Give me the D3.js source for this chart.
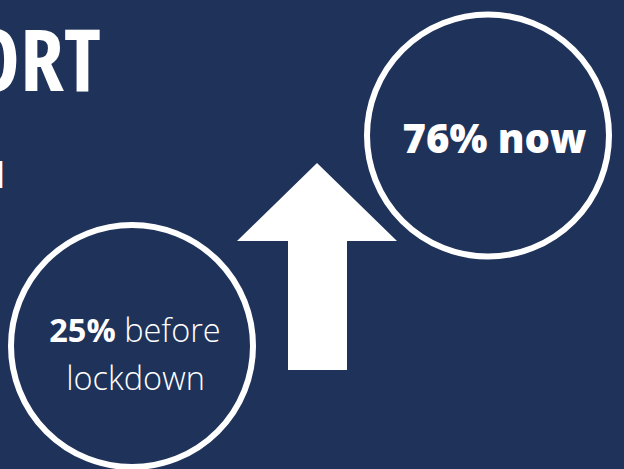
<!DOCTYPE html>
<html>
<head>
<meta charset="utf-8">
<script src="https://cdn.jsdelivr.net/npm/d3@7"></script>
<style>
    body { margin: 0; background: #1f335a; overflow: hidden; }
    svg { display: block; }
</style>
</head>
<body>
<svg id="chart" width="624" height="469"></svg>
<script>
// data
let periods = ['before', 'now'];
let shares = [25, 76];
let labels = ['before lockdown', 'now'];
let title = 'SUPPORT';
let subtitle = 'school';

let svg = d3.select('#chart');

svg.append('rect')
    .attr('width', 624)
    .attr('height', 469)
    .style('fill', '#1f335a');

// title cut at left edge
svg.append('text')
    .attr('x', 101)
    .attr('y', 91)
    .attr('text-anchor', 'end')
    .style('font-family', "'Open Sans', sans-serif")
    .style('font-weight', 'bold')
    .style('font-stretch', '75%')
    .style('font-size', '86px')
    .style('fill', '#fff')
    .text(title);

svg.append('text')
    .attr('x', 5)
    .attr('y', 188)
    .attr('text-anchor', 'end')
    .style('font-family', "'Open Sans', sans-serif")
    .style('font-weight', 'bold')
    .style('font-size', '36px')
    .style('fill', '#fff')
    .text(subtitle);

let x = d3.scalePoint().domain(periods).range([132, 488]);
let y = d3.scalePoint().domain(periods).range([346, 135.5]);

// arrow between the two values
let arrow = d3.path();
arrow.moveTo(317, 163);
arrow.lineTo(397, 241);
arrow.lineTo(347, 241);
arrow.lineTo(347, 370);
arrow.lineTo(288, 370);
arrow.lineTo(288, 241);
arrow.lineTo(237, 241);
arrow.closePath();
svg.append('path')
    .attr('d', arrow.toString())
    .style('fill', '#fff');

svg.selectAll('circle.bubble')
    .data(periods)
    .enter()
    .append('circle')
    .attr('class', 'bubble')
    .attr('cx', d => x(d))
    .attr('cy', d => y(d))
    .attr('r', 121)
    .style('fill', 'none')
    .style('stroke', '#fff')
    .style('stroke-width', 6);

// before
let before = svg.append('text')
    .attr('x', x('before') + 3)
    .attr('y', y('before') - 4)
    .attr('text-anchor', 'middle')
    .style('font-family', "'Open Sans', sans-serif")
    .style('font-size', '32.5px')
    .style('fill', '#fff');
before.append('tspan')
    .style('font-weight', 'bold')
    .text(shares[0] + '%');
before.append('tspan')
    .style('font-weight', 300)
    .text(' ' + labels[0].split(' ')[0]);
svg.append('text')
    .attr('x', x('before') + 3.5)
    .attr('y', y('before') + 44)
    .attr('text-anchor', 'middle')
    .style('font-family', "'Open Sans', sans-serif")
    .style('font-weight', 300)
    .style('font-size', '32.5px')
    .style('fill', '#fff')
    .text(labels[0].split(' ')[1]);

// now
svg.append('text')
    .attr('x', x('now') + 6.5)
    .attr('y', y('now') + 17.5)
    .attr('text-anchor', 'middle')
    .style('font-family', "'Open Sans', sans-serif")
    .style('font-weight', 800)
    .style('font-size', '40px')
    .style('fill', '#fff')
    .text(shares[1] + '% ' + labels[1]);
</script>
</body>
</html>
